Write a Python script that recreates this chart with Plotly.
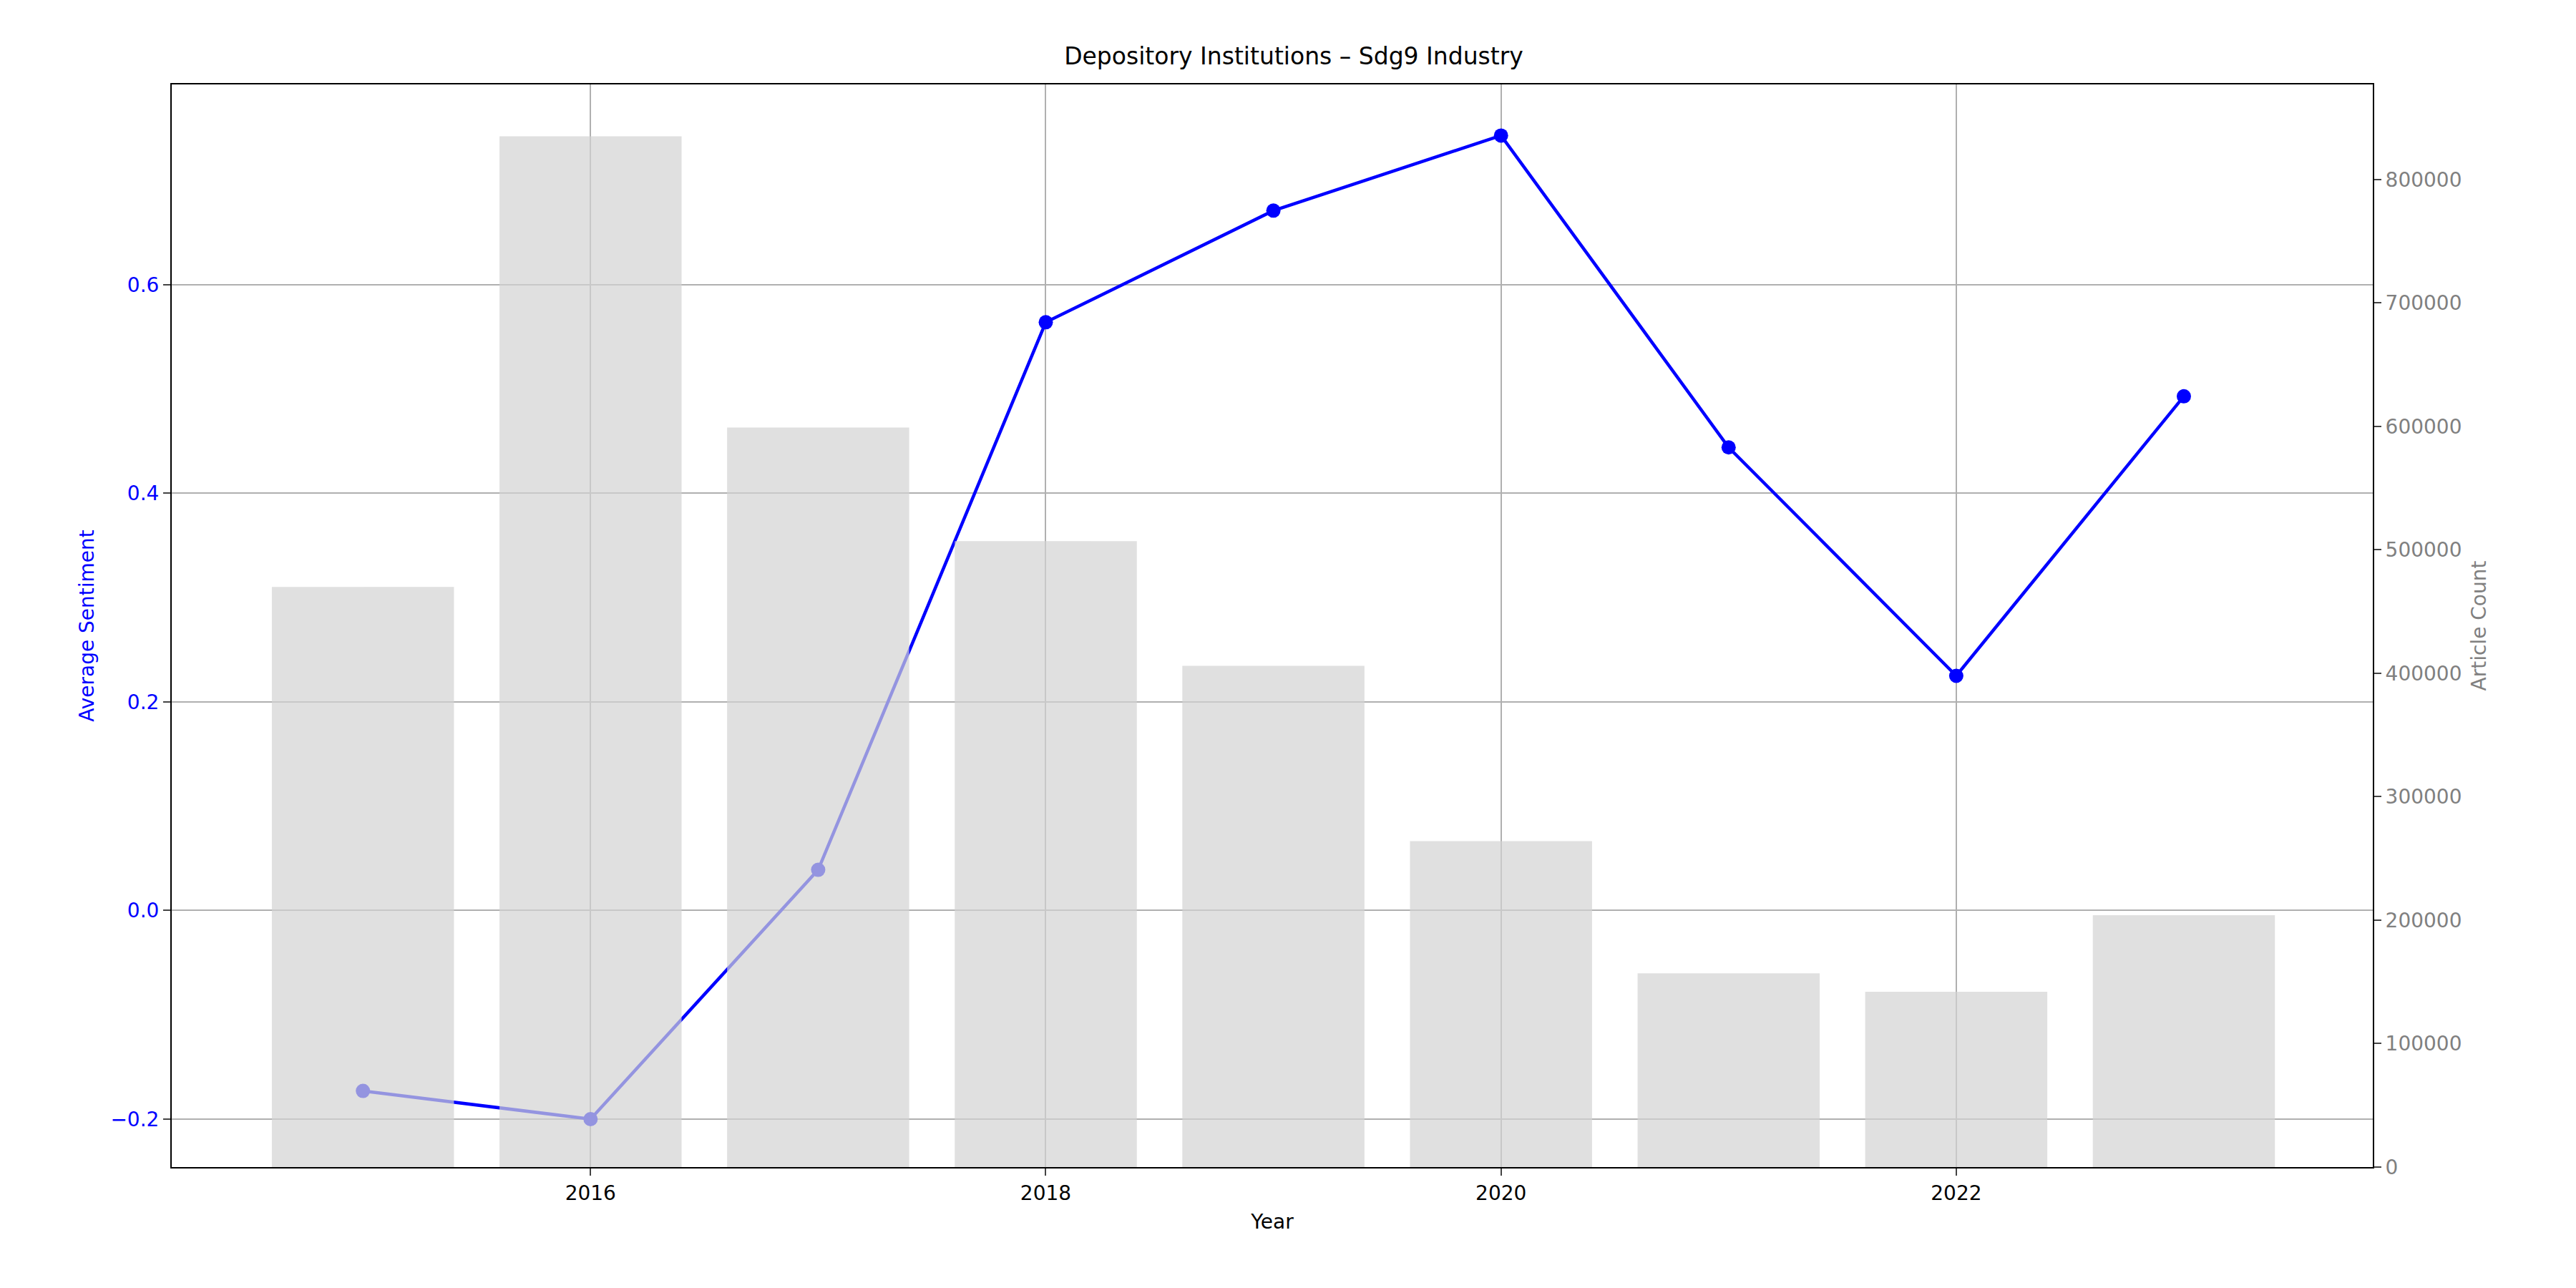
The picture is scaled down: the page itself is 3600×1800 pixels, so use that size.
import plotly.graph_objects as go

years = [2015, 2016, 2017, 2018, 2019, 2020, 2021, 2022, 2023]
sentiment = [-0.173, -0.200, 0.039, 0.564, 0.671, 0.743, 0.444, 0.225, 0.493]
counts = [470000, 835000, 599000, 507000, 406000, 264000, 157000, 142000, 204000]

F = "DejaVu Sans"
fig = go.Figure()
fig.add_trace(go.Scatter(x=years, y=sentiment, mode="lines+markers", yaxis="y",
                         line=dict(color="blue", width=4.5), marker=dict(color="blue", size=20),
                         showlegend=False))
fig.add_trace(go.Bar(x=years, y=counts, yaxis="y2", width=0.8,
                     marker=dict(color="#d3d3d3", line=dict(width=0)), opacity=0.7,
                     showlegend=False))
axis_common = dict(showline=True, linecolor="black", linewidth=2,
                   ticks="outside", ticklen=10, tickwidth=2, zeroline=False)
fig.update_layout(
    width=3600, height=1800, plot_bgcolor="white", paper_bgcolor="white",
    margin=dict(l=232, r=292, t=110, b=177),
    font=dict(family=F, size=28, color="black"),
    title=dict(text="Depository Institutions – Sdg9 Industry", x=0.5, xanchor="center",
               y=1 - 70/1800, yanchor="middle", font=dict(size=33)),
    xaxis=dict(range=[2014.16, 2023.83], tickvals=[2016, 2018, 2020, 2022],
               showgrid=True, gridcolor="#b0b0b0", gridwidth=2,
               title=dict(text="Year", font=dict(size=28)), mirror=True, **axis_common),
    yaxis=dict(range=[-0.246, 0.792], tickvals=[-0.2, 0, 0.2, 0.4, 0.6],
               ticktext=["−0.2", "0.0", "0.2", "0.4", "0.6"],
               showgrid=True, gridcolor="#b0b0b0", gridwidth=2,
               tickfont=dict(color="blue"),
               title=dict(text="Average Sentiment", font=dict(color="blue", size=28)),
               **axis_common),
    yaxis2=dict(overlaying="y", side="right", range=[0, 877000],
                tickvals=[0, 100000, 200000, 300000, 400000, 500000, 600000, 700000, 800000],
                ticktext=["0", "100000", "200000", "300000", "400000", "500000", "600000", "700000", "800000"],
                showgrid=False, tickfont=dict(color="gray"),
                title=dict(text="Article Count", font=dict(color="gray", size=28)),
                **axis_common),
)
fig.write_html("out.html")
